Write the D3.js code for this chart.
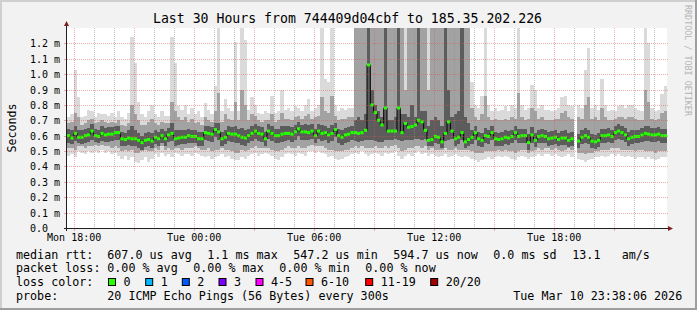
<!DOCTYPE html>
<html>
<head>
<meta charset="utf-8">
<script src="https://cdn.jsdelivr.net/npm/d3@7/dist/d3.min.js"></script>
<style>
  body { margin: 0; background: #f2f2f2; }
  text { font-family: "DejaVu Sans Mono", monospace; fill: #000; }
</style>
</head>
<body>
<div id="chart"></div>
<script>
// 10 minute bins, first bin starts Mon 17:40
var startTime = new Date(2026, 2, 9, 17, 40);
var endTime = new Date(2026, 2, 10, 23, 40);
var stepMinutes = 10;

// median rtt per bin (ms)
var medianRtt = [
  0.600,0.585,0.615,0.590,0.590,0.600,0.605,0.630,0.600,0.595,0.615,0.605,
  0.610,0.610,0.620,0.620,0.580,0.575,0.585,0.580,0.580,0.570,0.555,0.570,
  0.575,0.565,0.590,0.580,0.600,0.580,0.605,0.615,0.580,0.585,0.590,0.590,
  0.600,0.595,0.595,0.580,0.580,0.620,0.615,0.610,0.640,0.625,0.580,0.590,
  0.615,0.610,0.610,0.600,0.590,0.585,0.600,0.615,0.630,0.615,0.610,0.580,
  0.630,0.615,0.600,0.600,0.610,0.615,0.615,0.610,0.625,0.645,0.625,0.625,
  0.620,0.630,0.600,0.630,0.615,0.620,0.605,0.615,0.640,0.600,0.590,0.605,
  0.610,0.620,0.620,0.615,0.620,0.635,1.060,0.800,0.750,0.700,0.670,0.780,
  0.630,0.630,0.630,0.780,0.620,0.680,0.655,0.660,0.670,0.700,0.690,0.635,
  0.570,0.575,0.595,0.590,0.560,0.615,0.690,0.630,0.580,0.590,0.620,0.560,
  0.575,0.590,0.620,0.580,0.570,0.600,0.595,0.620,0.580,0.575,0.580,0.590,
  0.585,0.595,0.620,0.595,0.600,0.600,0.555,0.605,0.570,0.595,0.600,0.595,
  0.580,0.585,0.590,0.575,0.585,0.585,0.570,0.580,null,0.565,0.590,0.600,
  0.590,0.565,0.560,0.570,0.600,0.600,0.605,0.595,0.620,0.630,0.620,0.605,
  0.580,0.590,0.595,0.595,0.605,0.615,0.610,0.605,0.605,0.610,0.600,0.600
];

// smoke: outermost pings
var pingMax = [
  0.72,0.74,1.03,0.85,0.72,0.73,0.77,0.76,0.72,0.75,0.74,0.74,
  0.73,0.75,0.72,0.76,0.72,0.71,0.75,1.24,1.07,0.82,0.74,0.72,
  0.76,0.80,0.74,0.72,0.76,0.73,0.73,1.24,1.07,0.79,0.77,0.80,
  0.74,0.78,0.74,0.76,0.72,0.81,0.77,0.74,0.92,1.40,0.76,0.84,
  0.78,0.76,1.21,0.76,1.40,1.22,0.77,0.85,0.80,0.75,0.74,0.76,
  0.75,0.86,0.75,0.76,0.90,0.77,0.78,0.76,0.79,0.78,0.76,0.80,
  0.84,0.76,0.78,0.80,1.40,0.97,0.95,1.40,0.80,0.76,0.78,0.77,
  0.78,0.78,1.40,1.40,1.40,1.40,1.40,1.40,1.40,1.40,1.40,1.40,
  1.40,1.40,1.40,1.40,1.40,1.40,1.40,1.40,1.40,1.40,1.40,1.40,
  1.40,1.40,1.40,1.40,1.40,1.40,1.40,1.40,1.40,1.40,1.40,1.40,
  1.40,0.95,0.80,0.78,0.86,1.40,0.80,0.76,0.78,0.76,0.77,0.79,
  0.76,0.80,0.78,1.40,0.80,0.77,0.78,0.93,0.90,0.78,0.80,0.77,
  0.77,0.76,0.77,0.78,0.85,0.86,0.80,0.79,null,0.80,0.78,1.03,
  1.17,0.78,0.80,0.77,0.97,0.80,0.76,0.77,0.76,0.79,0.80,0.78,
  0.80,0.80,0.78,0.77,0.76,1.31,1.20,0.78,0.76,0.77,0.87,0.92
];
var pingMin = [
  0.47,0.48,0.46,0.50,0.49,0.48,0.50,0.49,0.50,0.49,0.51,0.49,
  0.50,0.48,0.49,0.47,0.45,0.47,0.44,0.46,0.43,0.42,0.44,0.46,
  0.43,0.45,0.48,0.46,0.49,0.47,0.48,0.46,0.49,0.48,0.47,0.48,
  0.48,0.47,0.49,0.48,0.47,0.46,0.47,0.45,0.46,0.47,0.48,0.46,
  0.47,0.45,0.44,0.44,0.46,0.45,0.47,0.48,0.49,0.47,0.48,0.49,
  0.48,0.47,0.45,0.44,0.46,0.48,0.49,0.48,0.47,0.49,0.48,0.47,
  0.50,0.50,0.49,0.50,0.49,0.48,0.46,0.47,0.45,0.44,0.45,0.46,
  0.47,0.48,0.49,0.48,0.50,0.48,0.47,0.48,0.49,0.48,0.47,0.49,
  0.48,0.49,0.50,0.47,0.45,0.47,0.48,0.47,0.49,0.50,0.48,0.49,
  0.47,0.48,0.47,0.46,0.47,0.48,0.46,0.47,0.48,0.47,0.46,0.47,
  0.46,0.45,0.44,0.43,0.44,0.45,0.46,0.45,0.46,0.47,0.46,0.47,
  0.46,0.45,0.44,0.46,0.47,0.46,0.45,0.46,0.47,0.48,0.47,0.48,
  0.48,0.47,0.48,0.47,0.46,0.47,0.48,0.46,null,0.45,0.44,0.43,
  0.44,0.45,0.46,0.46,0.47,0.46,0.47,0.48,0.47,0.48,0.47,0.46,
  0.47,0.46,0.45,0.46,0.46,0.45,0.46,0.45,0.44,0.45,0.46,0.46
];

// smoke: middle pings
var pingHi = [
  0.68,0.69,0.75,0.72,0.67,0.68,0.70,0.71,0.68,0.69,0.70,0.69,
  0.68,0.69,0.68,0.70,0.67,0.66,0.68,0.80,0.74,0.70,0.67,0.67,
  0.69,0.71,0.68,0.67,0.69,0.68,0.68,0.82,0.76,0.72,0.70,0.72,
  0.69,0.71,0.68,0.69,0.67,0.72,0.70,0.69,0.76,0.88,0.69,0.74,
  0.71,0.70,0.82,0.70,0.90,0.80,0.70,0.74,0.73,0.70,0.69,0.70,
  0.70,0.74,0.69,0.70,0.75,0.71,0.71,0.70,0.72,0.73,0.71,0.73,
  0.74,0.71,0.72,0.73,0.85,0.76,0.75,0.86,0.73,0.70,0.71,0.71,
  0.72,0.72,1.40,1.40,1.40,1.40,1.40,1.40,1.40,1.40,1.40,1.40,
  1.40,1.40,1.40,1.40,1.40,0.90,1.40,1.40,1.40,1.40,1.40,1.40,
  0.90,1.40,1.40,1.40,1.40,1.40,1.40,1.40,1.40,1.40,1.40,1.40,
  1.40,0.78,0.72,0.70,0.74,0.86,0.72,0.70,0.71,0.70,0.70,0.71,
  0.70,0.72,0.71,0.88,0.72,0.70,0.71,0.78,0.76,0.71,0.72,0.70,
  0.70,0.70,0.71,0.71,0.75,0.76,0.72,0.71,null,0.72,0.71,0.80,
  0.85,0.71,0.72,0.70,0.78,0.72,0.70,0.70,0.71,0.72,0.72,0.71,
  0.72,0.72,0.71,0.70,0.70,0.90,0.82,0.71,0.70,0.71,0.75,0.76
];
var pingLo = [
  0.52,0.52,0.51,0.53,0.53,0.52,0.53,0.53,0.54,0.53,0.54,0.53,
  0.53,0.52,0.53,0.52,0.50,0.51,0.50,0.51,0.49,0.49,0.50,0.51,
  0.50,0.50,0.52,0.51,0.53,0.51,0.52,0.51,0.52,0.52,0.51,0.52,
  0.52,0.52,0.53,0.52,0.51,0.51,0.52,0.50,0.51,0.51,0.52,0.51,
  0.51,0.50,0.49,0.49,0.51,0.50,0.51,0.52,0.53,0.52,0.52,0.52,
  0.52,0.51,0.50,0.50,0.51,0.52,0.53,0.52,0.52,0.53,0.52,0.52,
  0.53,0.54,0.53,0.53,0.53,0.52,0.51,0.51,0.50,0.50,0.50,0.51,
  0.51,0.52,0.53,0.52,0.53,0.52,0.52,0.52,0.53,0.52,0.52,0.53,
  0.52,0.53,0.54,0.52,0.50,0.51,0.52,0.52,0.53,0.53,0.52,0.53,
  0.51,0.52,0.51,0.51,0.51,0.52,0.51,0.51,0.52,0.51,0.51,0.51,
  0.51,0.50,0.49,0.49,0.49,0.50,0.50,0.50,0.50,0.51,0.50,0.51,
  0.50,0.50,0.49,0.50,0.51,0.51,0.49,0.50,0.51,0.52,0.51,0.52,
  0.52,0.51,0.52,0.51,0.50,0.51,0.52,0.51,null,0.49,0.49,0.48,
  0.49,0.49,0.50,0.50,0.51,0.51,0.51,0.52,0.52,0.52,0.51,0.51,
  0.51,0.51,0.50,0.51,0.51,0.50,0.50,0.50,0.49,0.50,0.50,0.50
];

// smoke: inner pings around the median
var pingHi2 = [
  0.645,0.635,0.660,0.640,0.635,0.645,0.650,0.675,0.645,0.640,0.660,0.650,
  0.655,0.655,0.665,0.665,0.625,0.620,0.635,0.660,0.635,0.620,0.600,0.615,
  0.625,0.620,0.635,0.625,0.645,0.630,0.650,0.680,0.640,0.635,0.640,0.640,
  0.645,0.640,0.640,0.625,0.625,0.665,0.660,0.655,0.685,0.680,0.625,0.640,
  0.660,0.655,0.665,0.645,0.650,0.635,0.645,0.665,0.675,0.660,0.655,0.625,
  0.675,0.665,0.645,0.645,0.660,0.660,0.660,0.655,0.670,0.690,0.670,0.675,
  0.670,0.675,0.645,0.675,0.670,0.665,0.650,0.670,0.685,0.645,0.635,0.650,
  0.655,0.665,0.700,0.720,0.700,0.740,1.400,0.900,0.800,0.760,0.720,1.400,
  0.700,0.700,0.720,1.400,0.740,0.740,0.720,0.800,0.720,1.400,0.760,0.760,
  0.660,0.700,0.720,0.700,0.660,1.400,0.900,0.720,0.740,0.760,1.400,0.720,
  0.680,0.640,0.665,0.625,0.620,0.650,0.640,0.665,0.625,0.620,0.625,0.640,
  0.630,0.640,0.665,0.645,0.645,0.645,0.610,0.655,0.620,0.640,0.645,0.640,
  0.625,0.630,0.635,0.620,0.630,0.635,0.615,0.625,null,0.610,0.635,0.650,
  0.635,0.610,0.605,0.615,0.645,0.645,0.650,0.640,0.665,0.675,0.665,0.650,
  0.625,0.635,0.640,0.640,0.650,0.665,0.660,0.650,0.650,0.655,0.645,0.645
];
var pingLo2 = [
  0.555,0.545,0.565,0.550,0.545,0.555,0.560,0.575,0.560,0.550,0.565,0.560,
  0.560,0.565,0.570,0.570,0.535,0.530,0.540,0.530,0.530,0.520,0.510,0.525,
  0.530,0.520,0.545,0.535,0.555,0.535,0.560,0.565,0.535,0.540,0.545,0.545,
  0.555,0.550,0.550,0.535,0.535,0.570,0.565,0.560,0.590,0.575,0.535,0.545,
  0.565,0.560,0.555,0.550,0.540,0.535,0.555,0.565,0.580,0.565,0.560,0.535,
  0.580,0.565,0.555,0.550,0.560,0.565,0.570,0.560,0.575,0.595,0.575,0.575,
  0.570,0.580,0.555,0.580,0.565,0.570,0.555,0.565,0.590,0.550,0.540,0.555,
  0.560,0.570,0.565,0.560,0.565,0.575,0.570,0.570,0.565,0.560,0.560,0.570,
  0.575,0.575,0.580,0.570,0.565,0.570,0.570,0.575,0.580,0.580,0.575,0.580,
  0.530,0.530,0.550,0.545,0.520,0.565,0.570,0.580,0.535,0.545,0.570,0.520,
  0.530,0.545,0.570,0.535,0.525,0.550,0.545,0.570,0.535,0.530,0.535,0.545,
  0.540,0.550,0.570,0.550,0.555,0.555,0.510,0.555,0.525,0.550,0.555,0.550,
  0.535,0.540,0.545,0.530,0.540,0.540,0.525,0.535,null,0.520,0.545,0.550,
  0.545,0.520,0.515,0.525,0.555,0.555,0.560,0.550,0.570,0.580,0.575,0.560,
  0.535,0.545,0.550,0.550,0.560,0.565,0.565,0.560,0.560,0.565,0.555,0.555
];

var yTicks = [0, 0.1, 0.2, 0.3, 0.4, 0.5, 0.6, 0.7, 0.8, 0.9, 1.0, 1.1, 1.2];

var titleText = "Last 30 Hours from 744409d04cbf to 185.35.202.226";
var statsRtt = ["median rtt:", "607.0 us avg", "1.1 ms max", "547.2 us min", "594.7 us now", "0.0 ms sd", "13.1", "am/s"];
var statsLoss = ["packet loss:", "0.00 % avg", "0.00 % max", "0.00 % min", "0.00 % now"];
var lossLabels = ["0", "1", "2", "3", "4-5", "6-10", "11-19", "20/20"];
var lossColors = ["#26ff00", "#00b8ff", "#0059ff", "#7e00ff", "#ff00ff", "#ff5500", "#ff0000", "#a10000"];
var probeText = ["probe:", "20 ICMP Echo Pings (56 Bytes) every 300s", "Tue Mar 10 23:38:06 2026"];

var W = 697, H = 310;
var margin = { top: 28, left: 67 };
var width = 600, height = 200;

var svg = d3.select("#chart").append("svg")
  .attr("width", W).attr("height", H);

// background and 3d frame
svg.append("rect").attr("width", W).attr("height", H).attr("fill", "#f2f2f2");
svg.append("path").attr("d", "M0,0H" + W + "V2H2V" + H + "H0Z").attr("fill", "#cfcfcf");
svg.append("path").attr("d", "M" + W + ",0V" + H + "H0V" + (H - 2) + "H" + (W - 2) + "V0Z").attr("fill", "#9e9e9e");

var x = d3.scaleTime().domain([startTime, endTime]).range([margin.left, margin.left + width]);
var y = d3.scaleLinear().domain([0, 1.3]).range([margin.top + height, margin.top]);

function binTime(k) { return d3.timeMinute.offset(startTime, k * stepMinutes); }

svg.append("rect")
  .attr("x", margin.left).attr("y", margin.top)
  .attr("width", width).attr("height", height)
  .attr("fill", "#ffffff");

svg.append("clipPath").attr("id", "plotclip")
  .append("rect")
  .attr("x", margin.left).attr("y", margin.top)
  .attr("width", width).attr("height", height);

var plot = svg.append("g").attr("clip-path", "url(#plotclip)");

var bands = [
  { lo: pingMin, hi: pingMax, color: "#dadada" },
  { lo: pingLo, hi: pingHi, color: "#a2a2a2" },
  { lo: pingLo2, hi: pingHi2, color: "#5c5c5c" }
];

bands.forEach(function(b) {
  plot.append("g").selectAll("rect")
    .data(d3.range(medianRtt.length).filter(function(k) { return b.hi[k] != null; }))
    .enter()
    .append("rect")
    .attr("x", function(k) { return x(binTime(k)); })
    .attr("width", function(k) { return x(binTime(k + 1)) - x(binTime(k)); })
    .attr("y", function(k) { return y(b.hi[k]); })
    .attr("height", function(k) { return y(b.lo[k]) - y(b.hi[k]); })
    .attr("fill", b.color)
    .attr("shape-rendering", "crispEdges");
});

// grid, dotted
var gridCol = "rgba(143,143,143,0.55)", mgridCol = "rgba(222,79,79,0.45)";
var grid = svg.append("g").attr("shape-rendering", "crispEdges");
d3.timeHour.range(startTime, endTime).forEach(function(t) {
  var major = t.getHours() % 3 === 0;
  var xx = Math.round(x(t)) + 0.5;
  grid.append("line")
    .attr("x1", xx).attr("x2", xx)
    .attr("y1", margin.top).attr("y2", margin.top + height)
    .attr("stroke", major ? mgridCol : gridCol)
    .attr("stroke-dasharray", "1,1");
  if (major) {
    grid.append("line")
      .attr("x1", xx).attr("x2", xx)
      .attr("y1", margin.top + height).attr("y2", margin.top + height + 3)
      .attr("stroke", mgridCol);
  }
});
yTicks.slice(1).forEach(function(v) {
  var yy = Math.round(y(v)) + 0.5;
  grid.append("line")
    .attr("x1", margin.left).attr("x2", margin.left + width + 2)
    .attr("y1", yy).attr("y2", yy)
    .attr("stroke", mgridCol)
    .attr("stroke-dasharray", "1,1");
  grid.append("line")
    .attr("x1", margin.left - 3).attr("x2", margin.left)
    .attr("y1", yy).attr("y2", yy)
    .attr("stroke", mgridCol);
});

// median: thin black steps, then loss coloured dashes
var medPts = d3.range(medianRtt.length + 1).map(function(k) {
  return { t: binTime(k), v: k < medianRtt.length ? medianRtt[k] : medianRtt[k - 1] };
});
plot.append("path")
  .datum(medPts)
  .attr("fill", "none")
  .attr("stroke", "#000")
  .attr("stroke-width", 1)
  .attr("d", d3.line()
    .defined(function(d) { return d.v != null; })
    .curve(d3.curveStepAfter)
    .x(function(d) { return x(d.t); })
    .y(function(d) { return y(d.v); }));

plot.append("g").selectAll("rect")
  .data(d3.range(medianRtt.length).filter(function(k) { return medianRtt[k] != null; }))
  .enter()
  .append("rect")
  .attr("x", function(k) { return x(binTime(k)); })
  .attr("width", function(k) { return x(binTime(k + 1)) - x(binTime(k)); })
  .attr("y", function(k) { return y(medianRtt[k]) - 1.5; })
  .attr("height", 3)
  .attr("fill", lossColors[0]);

// axes
var yAxis = d3.axisLeft(y).tickValues(yTicks).tickSize(0)
  .tickFormat(function(d) { return d === 0 ? "0.0" : d3.format(".1f")(d) + " m"; });
var gy = svg.append("g").attr("transform", "translate(" + margin.left + ",0)").call(yAxis);
gy.select(".domain").remove();
gy.selectAll("text")
  .attr("x", 30 - margin.left).attr("dy", "0.35em")
  .attr("text-anchor", "start")
  .style("font-family", "DejaVu Sans Mono").style("font-size", "10px");

var xAxis = d3.axisBottom(x)
  .tickValues(d3.timeHour.range(startTime, endTime).filter(function(t) { return t.getHours() % 6 === 0; }))
  .tickSize(0).tickPadding(0)
  .tickFormat(d3.timeFormat("%a %H:%M"));
var gx = svg.append("g").attr("transform", "translate(0," + (margin.top + height) + ")").call(xAxis);
gx.select(".domain").remove();
gx.selectAll("text")
  .attr("y", 13).attr("dy", 0)
  .style("font-family", "DejaVu Sans Mono").style("font-size", "10px");

// axis lines and arrows
svg.append("line").attr("x1", margin.left - 0.5).attr("x2", margin.left - 0.5)
  .attr("y1", margin.top + height + 3).attr("y2", margin.top - 5)
  .attr("stroke", "#1f1f1f");
svg.append("line").attr("x1", margin.left - 3).attr("x2", margin.left + width + 3)
  .attr("y1", margin.top + height + 0.5).attr("y2", margin.top + height + 0.5)
  .attr("stroke", "#1f1f1f");
svg.append("path")
  .attr("d", "M" + (margin.left - 3) + "," + (margin.top - 2) + "L" + (margin.left - 0.5) + "," + (margin.top - 7) + "L" + (margin.left + 2) + "," + (margin.top - 2) + "Z")
  .attr("fill", "#801f1f");
svg.append("path")
  .attr("d", "M" + (margin.left + width + 1) + "," + (margin.top + height - 2) + "L" + (margin.left + width + 6) + "," + (margin.top + height + 0.5) + "L" + (margin.left + width + 1) + "," + (margin.top + height + 3) + "Z")
  .attr("fill", "#801f1f");

// texts
svg.append("text").attr("x", 347.5).attr("y", 23)
  .attr("text-anchor", "middle").style("font-size", "13.2px").text(titleText);

svg.append("text").attr("transform", "translate(15.5,128) rotate(-90)")
  .attr("text-anchor", "middle").style("font-size", "11.6px").text("Seconds");

svg.append("text").attr("transform", "translate(684.5,5) rotate(90)")
  .style("font-size", "8.4px").style("fill", "#b4b4b4").text("RRDTOOL / TOBI OETIKER");

var legend = svg.append("g").style("font-size", "11.7px");
var rttX = [16, 107.3, 207.3, 293.3, 393.3, 493.3, 572.3, 621.7];
statsRtt.forEach(function(s, i) {
  legend.append("text").attr("x", rttX[i]).attr("y", 258.5).text(s);
});
var lossX = [16, 107.3, 193.3, 279.3, 365.3];
statsLoss.forEach(function(s, i) {
  legend.append("text").attr("x", lossX[i]).attr("y", 272.3).text(s);
});
legend.append("text").attr("x", 16).attr("y", 286).text("loss color:");
var boxX = [108.5, 145.7, 182.3, 219, 256, 306, 365.7, 430.7];
lossLabels.forEach(function(s, i) {
  legend.append("rect").attr("x", boxX[i]).attr("y", 278.5).attr("width", 7).attr("height", 7)
    .attr("fill", lossColors[i]).attr("stroke", "#000");
  legend.append("text").attr("x", boxX[i] + 15).attr("y", 286).text(s);
});
var probeX = [16, 107.3, 513.3];
probeText.forEach(function(s, i) {
  legend.append("text").attr("x", probeX[i]).attr("y", 299.7).text(s);
});
</script>
</body>
</html>
